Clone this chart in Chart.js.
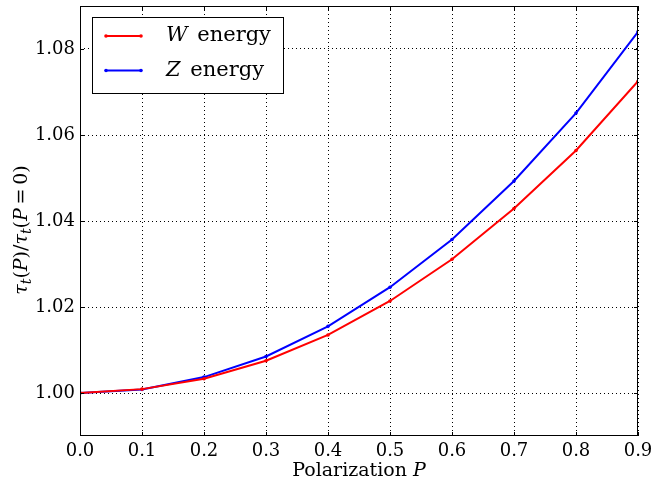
<!DOCTYPE html>
<html>
<head>
<meta charset="utf-8">
<script src="https://cdn.jsdelivr.net/npm/chart.js@4"></script>
<style>
  body { margin: 0; background: #fff; }
</style>
</head>
<body>
<canvas id="myChart" width="655" height="479"></canvas>
<script>
// values
const polarization = [0.0, 0.1, 0.2, 0.3, 0.4, 0.5, 0.6, 0.7, 0.8, 0.9];
const wEnergy = [1.0000, 1.0009, 1.0033, 1.0075, 1.0135, 1.0214, 1.0311, 1.0429, 1.0564, 1.0725];
const zEnergy = [1.0000, 1.0008, 1.0037, 1.0085, 1.0155, 1.0246, 1.0357, 1.0493, 1.0651, 1.0840];
const xTicks = [0.0, 0.1, 0.2, 0.3, 0.4, 0.5, 0.6, 0.7, 0.8, 0.9];
const yTicks = [1.00, 1.02, 1.04, 1.06, 1.08];
const seriesNames = ['W', 'Z'];
const seriesColors = ['#ff0000', '#0000ff'];

const serif = '"DejaVu Serif", serif';

// frame, inward ticks, legend and axis titles
const decorations = {
  id: 'decorations',
  afterDatasetsDraw(chart) {
    const c = chart.ctx;
    const a = chart.chartArea;
    const xs = chart.scales.x, ys = chart.scales.y;
    c.save();
    c.strokeStyle = '#000';
    c.lineWidth = 1;
    // tick marks pointing inward, all four sides
    c.beginPath();
    xTicks.forEach(v => {
      const px = Math.round(xs.getPixelForValue(v)) + 0.5;
      c.moveTo(px, a.bottom); c.lineTo(px, a.bottom - 4);
      c.moveTo(px, a.top); c.lineTo(px, a.top + 4);
    });
    yTicks.forEach(v => {
      const py = Math.round(ys.getPixelForValue(v)) + 0.5;
      c.moveTo(a.left, py); c.lineTo(a.left + 4, py);
      c.moveTo(a.right, py); c.lineTo(a.right - 4, py);
    });
    c.stroke();
    c.strokeRect(a.left + 0.5, a.top + 0.5, a.right - a.left - 1, a.bottom - a.top - 1);

    // legend
    c.fillStyle = '#fff';
    c.fillRect(92, 17, 191, 76);
    c.strokeRect(92.5, 17.5, 191, 76);
    seriesNames.forEach((name, i) => {
      const y = 36 + i * 34.5;
      c.strokeStyle = seriesColors[i];
      c.lineWidth = 2;
      c.beginPath(); c.moveTo(106, y); c.lineTo(141, y); c.stroke();
      c.fillStyle = seriesColors[i];
      [106, 141].forEach(x => { c.beginPath(); c.arc(x, y, 1.8, 0, Math.PI * 2); c.fill(); });
      c.fillStyle = '#000';
      c.textBaseline = 'middle';
      c.textAlign = 'left';
      c.font = 'italic 21px ' + serif;
      const x0 = 166;
      c.fillText(name, x0, y);
      const w = c.measureText(name).width;
      c.font = '21px ' + serif;
      c.fillText(' energy', x0 + w + 3, y);
    });

    // x title
    c.font = '19px ' + serif;
    c.textBaseline = 'alphabetic';
    const t1 = 'Polarization ';
    const w1 = c.measureText(t1).width;
    c.font = 'italic 19px ' + serif;
    const w2 = c.measureText('P').width;
    let x = 359 - (w1 + w2) / 2;
    c.font = '19px ' + serif;
    c.fillText(t1, x, 476);
    c.font = 'italic 19px ' + serif;
    c.fillText('P', x + w1, 476);

    // y title, rotated
    c.translate(27, 230);
    c.rotate(-Math.PI / 2);
    const parts = [
      ['τ', 'italic 19px', 0], ['t', 'italic 14px', 4], ['(', '19px', 0], ['P', 'italic 19px', 0],
      [')', '19px', 0], ['/', '19px', 0], ['τ', 'italic 19px', 0], ['t', 'italic 14px', 4], ['(', '19px', 0],
      ['P', 'italic 19px', 0], ['\u2009=\u2009', '19px', 0], ['0', '19px', 0], [')', '19px', 0]
    ];
    let total = 0;
    parts.forEach(p => { c.font = p[1] + ' ' + serif; total += c.measureText(p[0]).width; });
    let px = -total / 2;
    parts.forEach(p => {
      c.font = p[1] + ' ' + serif;
      c.fillText(p[0], px, p[2]);
      px += c.measureText(p[0]).width;
    });
    c.restore();
  }
};

const ctx = document.getElementById('myChart');
new Chart(ctx, {
  type: 'line',
  data: {
    datasets: [
      {
        label: 'W energy',
        data: polarization.map((p, i) => ({ x: p, y: wEnergy[i] })),
        borderColor: seriesColors[0],
        backgroundColor: seriesColors[0],
        borderWidth: 2,
        pointRadius: 1.8,
        pointBorderWidth: 0,
        tension: 0
      },
      {
        label: 'Z energy',
        data: polarization.map((p, i) => ({ x: p, y: zEnergy[i] })),
        borderColor: seriesColors[1],
        backgroundColor: seriesColors[1],
        borderWidth: 2,
        pointRadius: 1.8,
        pointBorderWidth: 0,
        tension: 0
      }
    ]
  },
  options: {
    responsive: false,
    animation: false,
    layout: { padding: { top: 6, right: 17, left: 0, bottom: 0 } },
    plugins: {
      legend: { display: false },
      tooltip: { enabled: false }
    },
    scales: {
      x: {
        type: 'linear',
        min: 0,
        max: 0.9,
        afterFit: s => { s.height = 43; s.paddingLeft = 0; s.paddingRight = 0; },
        afterBuildTicks: s => { s.ticks = xTicks.map(v => ({ value: v })); },
        border: { display: false, dash: [1, 3] },
        grid: { color: '#000', lineWidth: 1, drawTicks: false },
        ticks: {
          color: '#000',
          padding: 5,
          maxRotation: 0,
          font: { family: serif, size: 18 },
          callback: v => v.toFixed(1)
        }
      },
      y: {
        min: 0.99,
        max: 1.09,
        afterFit: s => { s.width = 80; s.paddingTop = 0; s.paddingBottom = 0; },
        afterBuildTicks: s => { s.ticks = yTicks.map(v => ({ value: v })); },
        border: { display: false, dash: [1, 3] },
        grid: { color: '#000', lineWidth: 1, drawTicks: false },
        ticks: {
          color: '#000',
          padding: 5,
          font: { family: serif, size: 18 },
          callback: v => v.toFixed(2)
        }
      }
    }
  },
  plugins: [decorations]
});
</script>
</body>
</html>
